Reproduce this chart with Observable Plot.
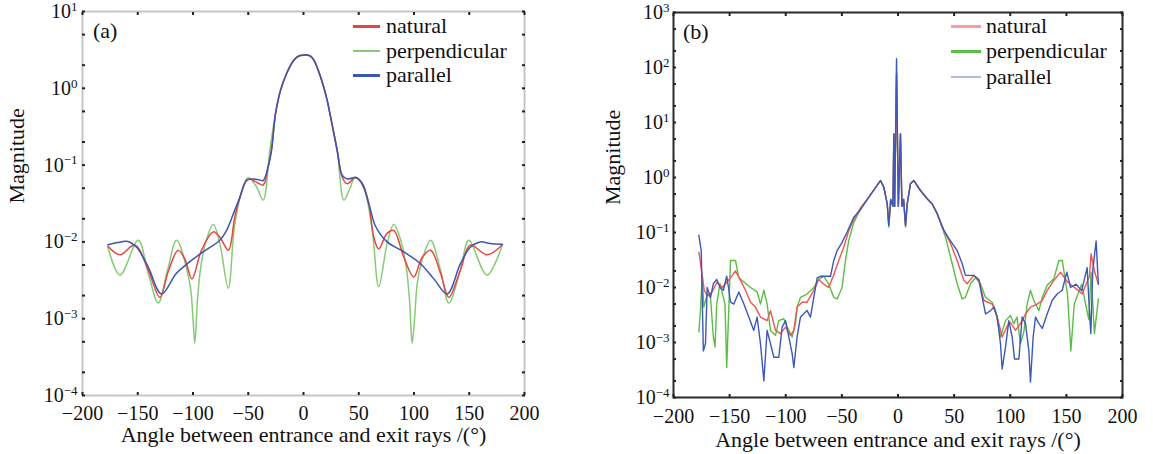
<!DOCTYPE html>
<html><head><meta charset="utf-8">
<script src="https://cdn.jsdelivr.net/npm/d3@7"></script>
<script src="https://cdn.jsdelivr.net/npm/@observablehq/plot@0.6"></script>
<style>
body{margin:0;background:#fff;}
#wrap{position:relative;width:1153px;height:454px;overflow:hidden;font-family:"Liberation Serif","Times New Roman","DejaVu Serif",serif;color:#111;}
.panel{position:absolute;top:0;}
.lg{position:absolute;font-size:22px;}
.lg .row{position:absolute;left:0;height:24px;line-height:24px;white-space:nowrap;}
.lg .sw{position:absolute;left:0;top:11px;height:2.5px;}
.lg .tx{position:absolute;top:0;}
.pl{position:absolute;font-size:22px;line-height:24px;height:24px;}
</style></head><body><div id="wrap"></div>
<script>
// ---------- data ----------
const seriesNames = ["natural", "perpendicular", "parallel"];
const xTitle = "Angle between entrance and exit rays /(°)";
const yTitle = "Magnitude";
const xTicks = [-200, -150, -100, -50, 0, 50, 100, 150, 200];
const yMajorA = [1e-4, 1e-3, 1e-2, 1e-1, 1, 10];
const yMajorB = [1e-4, 1e-3, 1e-2, 1e-1, 1, 10, 100, 1000];
const yMinorA = [2e-4,5e-4,2e-3,5e-3,2e-2,5e-2,0.2,0.5,2,5];
const yMinorB = [2e-4,5e-4,2e-3,5e-3,2e-2,5e-2,0.2,0.5,2,5,20,50,200,500];

// panel (a): [angle, magnitude]
const aParallel = [[-177,0.0092],[-168,0.0098],[-160,0.0102],[-151,0.0085],[-140.5,0.0047],[-128.5,0.0021],[-115,0.0039],[-103,0.0055],[-90.8,0.0074],[-75.7,0.0105],[-69.7,0.014],[-63.6,0.023],[-57.6,0.038],[-51.6,0.063],[-45.5,0.066],[-40,0.064],[-36.5,0.063],[-32,0.095],[-29,0.155],[-25.3,0.47],[-20.8,0.94],[-14.8,1.62],[-8.8,2.32],[-4.2,2.63],[0,2.7],[3.3,2.72],[6.3,2.62],[9.4,2.32],[15.4,1.41],[21.4,0.70],[24.4,0.43],[30.5,0.155],[35,0.074],[39.5,0.066],[47,0.069],[53,0.058],[59,0.032],[65.2,0.016],[75.7,0.01],[90.8,0.0074],[105.9,0.0052],[118,0.0033],[130,0.0021],[142,0.0052],[151,0.0085],[160,0.01],[169,0.0095],[180,0.0093]];
const aNatural = [[-177,0.0088],[-166,0.0068],[-152.7,0.0091],[-140.5,0.0043],[-130,0.0019],[-122,0.0043],[-113.4,0.0078],[-107,0.0058],[-101,0.0033],[-92.3,0.0078],[-81.7,0.0135],[-75.7,0.0115],[-68,0.0078],[-62.2,0.021],[-57.6,0.038],[-51.6,0.063],[-48.6,0.066],[-42.5,0.06],[-36.5,0.055],[-32,0.095],[-29,0.155],[-25.3,0.47],[-20.8,0.94],[-14.8,1.62],[-8.8,2.32],[-4.2,2.63],[0,2.7],[3.3,2.72],[6.3,2.62],[9.4,2.32],[15.4,1.41],[21.4,0.70],[24.4,0.43],[30.5,0.155],[35,0.07],[39.5,0.057],[47,0.069],[53,0.058],[59,0.032],[63.6,0.0115],[68.1,0.0081],[75.7,0.013],[81.7,0.0141],[90.8,0.0063],[99.8,0.0035],[107.4,0.0063],[115,0.0078],[124,0.0039],[131.5,0.0019],[142,0.0043],[151,0.0091],[166,0.0068],[180,0.0092]];
const aPerpendicular = [[-177,0.0085],[-166,0.0037],[-149.6,0.0105],[-140.5,0.0039],[-131.5,0.0016],[-123,0.0043],[-114.9,0.0105],[-103,0.0029],[-100,0.001],[-98.4,0.00048],[-96,0.0017],[-93,0.0047],[-88,0.0105],[-81.7,0.017],[-75.7,0.0095],[-68.1,0.0025],[-62.2,0.017],[-54.6,0.052],[-50,0.069],[-42.5,0.052],[-36.5,0.035],[-30.5,0.155],[-25.3,0.47],[-20.8,0.94],[-14.8,1.62],[-8.8,2.32],[-4.2,2.63],[0,2.7],[3.3,2.72],[6.3,2.62],[9.4,2.32],[15.4,1.41],[21.4,0.70],[24.4,0.43],[30.5,0.155],[36.5,0.035],[42,0.05],[47,0.07],[54.6,0.05],[62,0.015],[68.1,0.0026],[75.7,0.0095],[81.7,0.017],[88,0.0105],[93,0.0047],[96,0.0017],[98.3,0.00048],[100.5,0.001],[103,0.0029],[107.4,0.0058],[115,0.0105],[124,0.0043],[131.5,0.0016],[142,0.0043],[149.6,0.0105],[166,0.0037],[180,0.0092]];

// panel (b): [angle, magnitude]
const bParallel = [[-177.4,0.089],[-175.3,0.047],[-173.4,0.0007],[-171.5,0.00095],[-170,0.01],[-167,0.0066],[-164.5,0.0117],[-161.5,0.014],[-158.6,0.01],[-155.6,0.0089],[-152.6,0.016],[-151,0.01],[-149.2,0.0054],[-146.3,0.005],[-141.8,0.0083],[-137.3,0.005],[-132.9,0.0029],[-128.5,0.00166],[-125.5,0.0029],[-122.5,0.00095],[-119.5,0.0002],[-116.6,0.00166],[-113.6,0.00095],[-110.6,0.00054],[-106.2,0.00054],[-103.2,0.0019],[-100.2,0.0025],[-97.3,0.00126],[-94.3,0.00063],[-92.8,0.00035],[-89.9,0.00126],[-86.9,0.0029],[-81,0.0038],[-78,0.0029],[-75,0.0066],[-72,0.015],[-69.1,0.016],[-60.2,0.016],[-57.2,0.031],[-54.2,0.047],[-49.8,0.066],[-45.3,0.102],[-39.4,0.19],[-33.4,0.26],[-26,0.44],[-15.6,0.88],[-12.6,0.66],[-9.6,0.33],[-8.2,0.135],[-6.5,0.4],[-4.5,0.3],[-3.7,6.2],[-3,0.3],[-1.3,145],[0.3,0.3],[2.2,6.2],[3.5,0.3],[5,0.4],[6.7,0.135],[8.2,0.33],[11.1,0.77],[14.1,0.88],[20,0.58],[26,0.41],[30.5,0.33],[34.9,0.22],[40.8,0.11],[45.3,0.078],[52.7,0.047],[57.2,0.027],[60.1,0.0166],[67.5,0.0166],[72,0.014],[75,0.0066],[78,0.0033],[82.5,0.0038],[85.4,0.0044],[88.4,0.0029],[91.3,0.00095],[92.8,0.00033],[95.8,0.00083],[98.7,0.0025],[101.7,0.00126],[103.8,0.0005],[107.7,0.0005],[110.6,0.0029],[113.6,0.0022],[116.6,0.0007],[118,0.00019],[120.4,0.00126],[122.5,0.0029],[125.5,0.0022],[128.5,0.0018],[132.9,0.0033],[137.3,0.0058],[141.8,0.0076],[146.3,0.0089],[150.4,0.019],[153.7,0.01],[158.7,0.0115],[163.6,0.0087],[168.5,0.023],[170,0.006],[171.8,0.00145],[173.5,0.02],[175.2,0.041],[176.5,0.07],[178.5,0.0115]];
const bNatural = [[-177.4,0.044],[-174.4,0.0166],[-172.6,0.0089],[-170,0.0071],[-165.6,0.0083],[-161.1,0.0126],[-156.7,0.01],[-152.2,0.0126],[-147.7,0.0166],[-144.8,0.02],[-140.3,0.0135],[-135.9,0.0089],[-131.4,0.0054],[-127,0.0044],[-122.5,0.0029],[-116.6,0.0025],[-113.6,0.0038],[-109.1,0.00166],[-104.7,0.00145],[-100.2,0.0019],[-95.8,0.00135],[-92.8,0.00166],[-89.9,0.0044],[-85.4,0.0054],[-81,0.0054],[-75,0.0089],[-70.6,0.014],[-66.1,0.0115],[-61.7,0.01],[-57.2,0.017],[-52.8,0.031],[-48.3,0.054],[-43.9,0.107],[-39.4,0.17],[-33.4,0.28],[-26,0.44],[-15.6,0.88],[-12.6,0.66],[-9.6,0.33],[-8.2,0.135],[-6.5,0.4],[-4.5,0.3],[-3.7,6.2],[-3,0.3],[-1.3,77],[0.3,0.3],[2.2,6.2],[3.5,0.3],[5,0.4],[6.7,0.135],[8.2,0.33],[11.1,0.77],[14.1,0.88],[20,0.58],[26,0.41],[30.5,0.33],[34.9,0.22],[40.8,0.11],[46.8,0.063],[52.7,0.031],[58.6,0.0135],[61.6,0.0117],[67.5,0.0166],[72,0.0135],[76.5,0.0058],[83.9,0.005],[88.4,0.0029],[92.8,0.00126],[97.3,0.002],[100.2,0.0023],[104.7,0.00166],[109.1,0.0022],[113.6,0.0033],[118,0.0044],[124,0.005],[128.5,0.0058],[132.9,0.0089],[138.9,0.0135],[144.8,0.019],[151,0.0126],[161,0.0087],[164,0.0076],[170.5,0.0158],[172,0.041],[175,0.02],[178.5,0.0115]];
const bPerpendicular = [[-177.4,0.00155],[-176,0.0038],[-174.4,0.0166],[-173,0.0044],[-170,0.0076],[-167,0.0066],[-164.5,0.00126],[-163,0.00083],[-161.5,0.005],[-158.6,0.0117],[-154.1,0.005],[-152.6,0.00035],[-151,0.0029],[-149.2,0.031],[-144.8,0.031],[-141.8,0.015],[-137.3,0.0126],[-131.4,0.01],[-125.5,0.0083],[-122.5,0.005],[-119.5,0.0089],[-116.6,0.005],[-113.6,0.00166],[-109.1,0.00135],[-106.2,0.0025],[-101.7,0.0027],[-98.7,0.0019],[-94.3,0.00126],[-91.3,0.0022],[-89.9,0.0044],[-86.9,0.0066],[-81,0.0076],[-75,0.01],[-70.6,0.014],[-66.1,0.016],[-61.7,0.0115],[-57.2,0.0066],[-54.2,0.0062],[-49.8,0.01],[-46.8,0.031],[-43.9,0.071],[-39.4,0.15],[-33.4,0.27],[-26,0.44],[-15.6,0.88],[-12.6,0.66],[-9.6,0.33],[-8.2,0.125],[-6.5,0.4],[-4.5,0.3],[-3.7,6.2],[-3,0.3],[-1.3,77],[0.3,0.3],[2.2,6.2],[3.5,0.3],[5,0.4],[6.7,0.125],[8.2,0.33],[11.1,0.77],[14.1,0.88],[20,0.58],[26,0.41],[30.5,0.33],[34.9,0.22],[42.3,0.083],[48.3,0.027],[52.7,0.0117],[57.2,0.0062],[60,0.0066],[64.6,0.0117],[69.1,0.015],[73.5,0.0117],[78,0.0066],[83.9,0.0054],[86.9,0.0038],[91.3,0.00126],[95.8,0.0025],[100.2,0.0031],[103.2,0.0022],[106,0.0029],[109.1,0.00095],[112.1,0.00155],[115.1,0.005],[118,0.0089],[121,0.0058],[125.5,0.0038],[128.5,0.0066],[132.9,0.011],[138.9,0.0145],[143.3,0.031],[146.3,0.031],[151,0.0076],[154,0.0007],[157,0.005],[163.6,0.0115],[166.5,0.0058],[170,0.0026],[172,0.019],[175,0.00145],[178.5,0.0062]];

// ---------- styling ----------
const FONT = '"Liberation Serif", "Times New Roman", "DejaVu Serif", serif';
const colorsA = {natural: "#e8453f", perpendicular: "#86cc77", parallel: "#3a56b4"};
const colorsB = {natural: "#ee5555", perpendicular: "#5bbd45", parallel: "#3d58b8"};
const legendB = {natural: "#f4a0a0", perpendicular: "#5bbd45", parallel: "#b3bce4"};

function fmtX(d) { return d < 0 ? "\u2212" + Math.abs(d) : String(d); }
function fmtExp(d) { const e = Math.round(Math.log10(d)); return e < 0 ? "\u2212" + Math.abs(e) : String(e); }

function makePanel(o) {
  const ticksAll = o.yMajor.concat(o.yMinor);
  const tickStyle = {stroke: "#222", strokeWidth: 2, label: null, tickFormat: () => ""};
  return Plot.plot({
    width: o.width, height: 454,
    marginLeft: o.ml, marginRight: o.mr, marginTop: o.mt, marginBottom: o.mb,
    style: {fontFamily: FONT, fontSize: "20px", color: "#111", background: "transparent", overflow: "visible"},
    x: {domain: [-200, 200]},
    y: {type: "log", domain: o.yDomain},
    marks: [
      ...o.lines.map(([rows, name]) => Plot.line(rows, {x: d => d[0], y: d => d[1], stroke: o.colors[name], strokeWidth: o.sw, curve: o.curve})),
      Plot.frame({stroke: o.frame, strokeWidth: 2}),
      Plot.axisX({ticks: xTicks, anchor: "bottom", tickSize: 0, tickPadding: o.xPad, tickFormat: fmtX, label: null, fontSize: 20}),
      Plot.axisX({ticks: xTicks, anchor: "bottom", tickSize: -3, ...tickStyle}),
      Plot.axisX({ticks: xTicks, anchor: "top", tickSize: -3, ...tickStyle}),
      Plot.axisY({ticks: o.yMajor, anchor: "left", tickSize: 0, tickPadding: o.yPad, tickFormat: fmtExp, label: null, fontSize: 20}),
      Plot.axisY({ticks: ticksAll, anchor: "left", tickSize: -3, ...tickStyle}),
      Plot.axisY({ticks: ticksAll, anchor: "right", tickSize: -3, ...tickStyle}),
      Plot.text([xTitle], {frameAnchor: "bottom", dy: o.xTitleDy, text: d => d, fontSize: 22, fill: "#111"}),
      Plot.text([yTitle], {frameAnchor: "left", dx: o.yTitleDx, rotate: -90, text: d => d, fontSize: 22, fill: "#111"})
    ]
  });
}

function postProcess(svg) {
  const s = d3.select(svg);
  s.selectAll("text").each(function() { if (!this.textContent) d3.select(this).remove(); });
  s.selectAll('g[aria-label="y-axis tick label"] text').each(function() {
    const t = this.textContent;
    if (!t) return;
    this.textContent = "10";
    d3.select(this).append("tspan").attr("dy", "-0.55em").attr("font-size", "13px").text(t);
  });
}

const wrap = document.getElementById("wrap");

function place(svg, left) {
  const div = document.createElement("div");
  div.className = "panel";
  div.style.left = left + "px";
  div.appendChild(svg);
  wrap.appendChild(div);
}

const svgA = makePanel({
  width: 576, ml: 82, mr: 52, mt: 11, mb: 59,
  yDomain: [1e-4, 10], yMajor: yMajorA, yMinor: yMinorA,
  colors: colorsA, frame: "#c6c6c6", sw: 1.5, curve: "catmull-rom",
  xPad: 10, yPad: 5, xTitleDy: 46, yTitleDx: -66,
  lines: [[aPerpendicular, "perpendicular"], [aNatural, "natural"], [aParallel, "parallel"]]
});
postProcess(svgA);
place(svgA, 0);

const svgB = makePanel({
  width: 577, ml: 97, mr: 31, mt: 12, mb: 57,
  yDomain: [1e-4, 1000], yMajor: yMajorB, yMinor: yMinorB,
  colors: colorsB, frame: "#2a2a2a", sw: 1.4, curve: "linear",
  xPad: 11, yPad: 4, xTitleDy: 49, yTitleDx: -61,
  lines: [[bPerpendicular, "perpendicular"], [bNatural, "natural"], [bParallel, "parallel"]]
});
postProcess(svgB);
place(svgB, 576);

function legend(left, top, step, swW, gap, colors) {
  const lg = document.createElement("div");
  lg.className = "lg";
  lg.style.left = left + "px";
  lg.style.top = top + "px";
  seriesNames.forEach((name, i) => {
    const row = document.createElement("div");
    row.className = "row";
    row.style.top = (i * step) + "px";
    const sw = document.createElement("span");
    sw.className = "sw"; sw.style.width = swW + "px"; sw.style.background = colors[name];
    const tx = document.createElement("span");
    tx.className = "tx"; tx.style.left = (swW + gap) + "px"; tx.textContent = name;
    row.appendChild(sw); row.appendChild(tx);
    lg.appendChild(row);
  });
  wrap.appendChild(lg);
}
legend(353, 14, 24.5, 27, 6, colorsA);
legend(951, 14, 25.3, 30, 5, legendB);

function panelLabel(text, left, top) {
  const d = document.createElement("div");
  d.className = "pl"; d.style.left = left + "px"; d.style.top = top + "px"; d.textContent = text;
  wrap.appendChild(d);
}
panelLabel("(a)", 93, 19);
panelLabel("(b)", 683, 20);
</script></body></html>
